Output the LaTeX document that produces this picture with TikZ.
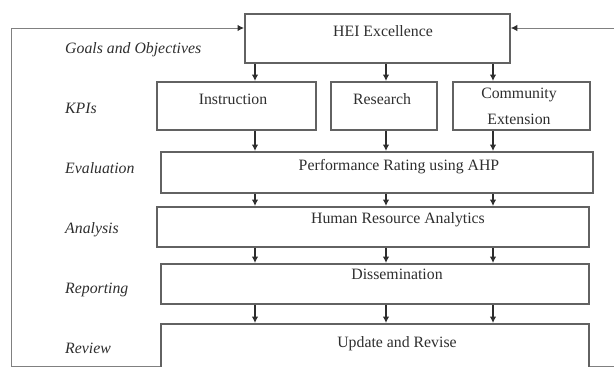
\documentclass[tikz,border=0pt]{standalone}
\usepackage{fontspec}
\setmainfont{Liberation Serif}
\usetikzlibrary{arrows.meta}
\definecolor{boxline}{HTML}{626262}
\definecolor{loopline}{HTML}{808080}
\definecolor{inkgray}{HTML}{2E2E2E}
\begin{document}
\begin{tikzpicture}[x=1pt,y=-1pt,
  every node/.style={font=\fontsize{15.8}{19}\selectfont, text=inkgray},
  stagebox/.style={draw=boxline, line width=1.8pt, inner sep=0pt, anchor=north west},
  boxtext/.style={anchor=base, inner sep=0pt},
  stagename/.style={anchor=base west, inner sep=0pt, font=\fontsize{15.8}{19}\selectfont\itshape},
  tip/.style={-{Latex[length=6.5pt,width=6.5pt,color=inkgray]}},
  flow/.style={draw=inkgray, line width=1.1pt, tip},
  loop/.style={draw=loopline, line width=1pt},
]
\useasboundingbox (0,0) rectangle (614,367);

% boxes
\node[stagebox, minimum width=265pt, minimum height=49pt] (hei) at (244,13) {};
\node[stagebox, minimum width=159pt, minimum height=48pt] (ins) at (156,81) {};
\node[stagebox, minimum width=106pt, minimum height=48pt] (res) at (330,81) {};
\node[stagebox, minimum width=137pt, minimum height=48pt] (com) at (452,81) {};
\node[stagebox, minimum width=432pt, minimum height=41pt] (perf) at (160,151) {};
\node[stagebox, minimum width=432pt, minimum height=40pt] (hra) at (156,206) {};
\node[stagebox, minimum width=428pt, minimum height=40pt] (dis) at (160,263) {};
\node[stagebox, minimum width=428pt, minimum height=60pt] (upd) at (160,323) {};

% box texts
\node[boxtext] (heit) at (383,36) {HEI Excellence};
\node[boxtext] (inst) at (233,104) {Instruction};
\node[boxtext] (rest) at (382,104) {Research};
\node[boxtext] (comt1) at (519,98) {Community};
\node[boxtext] (comt2) at (519,124) {Extension};
\node[boxtext] (perft) at (399,170) {Performance Rating using AHP};
\node[boxtext] (hrat) at (398,223) {Human Resource Analytics};
\node[boxtext] (dist) at (397,279) {Dissemination};
\node[boxtext] (updt) at (397,347) {Update and Revise};

% stage names
\node[stagename] (s1) at (65,53) {Goals and Objectives};
\node[stagename] (s2) at (65,113) {KPIs};
\node[stagename] (s3) at (65,173) {Evaluation};
\node[stagename] (s4) at (65,233) {Analysis};
\node[stagename] (s5) at (65,293) {Reporting};
\node[stagename] (s6) at (65,353) {Review};

% arrow columns
\coordinate (c1) at (255,0);
\coordinate (c2) at (386,0);
\coordinate (c3) at (493,0);

\draw[flow] (hei.south -| c1) -- (ins.north -| c1);
\draw[flow] (hei.south -| c2) -- (res.north -| c2);
\draw[flow] (hei.south -| c3) -- (com.north -| c3);
\draw[flow] (ins.south -| c1) -- (perf.north -| c1);
\draw[flow] (res.south -| c2) -- (perf.north -| c2);
\draw[flow] (com.south -| c3) -- (perf.north -| c3);
\foreach \c in {c1,c2,c3} {
  \draw[flow] (perf.south -| \c) -- (hra.north -| \c);
  \draw[flow] (hra.south -| \c) -- (dis.north -| \c);
  \draw[flow] (dis.south -| \c) -- (upd.north -| \c);
}

% feedback loop
\coordinate (lb) at (11,366);
\coordinate (rt) at (614,28);
\coordinate (rb) at (614,366);
\draw[loop, tip] (upd.west |- lb) -- (lb) |- (hei.west |- rt);
\draw[loop, tip] (rt) -- (hei.east |- rt);
\draw[loop] (rb) -- (upd.east |- rb);
\end{tikzpicture}
\end{document}
